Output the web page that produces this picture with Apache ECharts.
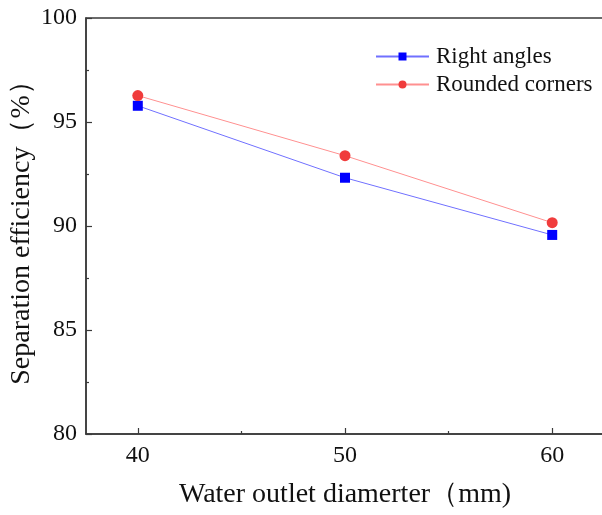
<!DOCTYPE html>
<html><head><meta charset="utf-8">
<script src="https://cdn.jsdelivr.net/npm/echarts@6/dist/echarts.min.js"></script>
<style>html,body{margin:0;padding:0;background:#fff}#c{width:602px;height:515px}</style>
</head><body><div id="c"></div>
<script>
var xValues = [40, 50, 60];
var rightAngles = [95.78, 92.32, 89.57];
var roundedCorners = [96.27, 93.38, 90.16];
var xTicks = [40, 50, 60];
var xMinorTicks = [45, 55];
var seriesNames = ['Right angles', 'Rounded corners'];

var font = 'Liberation Serif, Times New Roman, serif';
var chart = echarts.init(document.getElementById('c'));
function pairs(ys){ return xValues.map(function(x,i){ return [x, ys[i]]; }); }
chart.setOption({
  animation: false,
  grid: { left: 86, top: 18, width: 518, height: 416, outerBoundsMode: 'none', containLabel: false, show: true, borderColor: '#3a3a3a', borderWidth: 1.5, backgroundColor: 'transparent' },
  legend: {
    left: 370, top: 40, orient: 'vertical', itemGap: 5, itemWidth: 53, itemHeight: 10,
    textStyle: { fontFamily: font, fontSize: 23, color: '#111', padding: [0,0,0,2] },
    data: [
      { name: seriesNames[0] },
      { name: seriesNames[1] }
    ]
  },
  xAxis: [{
    type: 'value', min: 37.5, max: 62.5,
    name: 'Water outlet diamerter（mm)', nameLocation: 'middle', nameGap: 47,
    nameTextStyle: { fontFamily: font, fontSize: 28, color: '#111' },
    axisLine: { lineStyle: { color: '#3a3a3a', width: 1.5 } },
    axisTick: { inside: true, length: 6, customValues: xTicks, lineStyle: { color: '#3a3a3a', width: 1.2 } },
    axisLabel: { customValues: xTicks, fontFamily: font, fontSize: 24, color: '#111', margin: 10 },
    splitLine: { show: false }
  }, {
    type: 'value', min: 37.5, max: 62.5, position: 'bottom', gridIndex: 0,
    axisLine: { show: false },
    axisTick: { inside: true, length: 3, customValues: xMinorTicks, lineStyle: { color: '#3a3a3a', width: 1.2 } },
    axisLabel: { show: false },
    splitLine: { show: false }
  }],
  yAxis: {
    type: 'value', min: 80, max: 100, interval: 5,
    name: 'Separation efficiency（%）', nameLocation: 'middle', nameGap: 50, nameRotate: 90, nameMoveOverlap: false,
    nameTextStyle: { fontFamily: font, fontSize: 28, color: '#111' },
    axisLine: { show: true, lineStyle: { color: '#3a3a3a', width: 1.5 } },
    axisTick: { inside: true, length: 6, lineStyle: { color: '#3a3a3a', width: 1.2 } },
    minorTick: { show: true, splitNumber: 2, length: 3, lineStyle: { color: '#3a3a3a', width: 1.2 } },
    axisLabel: { fontFamily: font, fontSize: 24, color: '#111', margin: 9 },
    splitLine: { show: false }
  },
  series: [{
    name: seriesNames[0], type: 'line', data: pairs(rightAngles),
    symbol: 'rect', symbolSize: 10,
    itemStyle: { color: '#0000ff' },
    lineStyle: { color: '#7070ff', width: 1 }
  }, {
    name: seriesNames[1], type: 'line', data: pairs(roundedCorners),
    symbol: 'circle', symbolSize: 11,
    itemStyle: { color: '#f03c3c' },
    lineStyle: { color: '#ff9090', width: 1 }
  }]
});
</script></body></html>
